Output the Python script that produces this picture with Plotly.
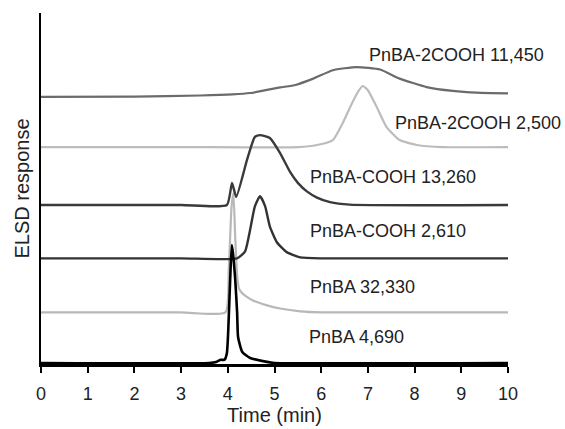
import plotly.graph_objects as go

# ---- data (time in min, response in arbitrary units above each trace's baseline) ----
labels = ["PnBA-2COOH 11,450", "PnBA-2COOH 2,500", "PnBA 32,330",
          "PnBA-COOH 13,260", "PnBA-COOH 2,610", "PnBA 4,690"]

t_2cooh_11450 = [0.0, 2.0, 3.41, 4.1, 4.48, 4.84, 5.12, 5.45, 5.83, 6.25, 6.76, 7.26, 7.68, 8.26, 8.82, 9.33, 10.0]
r_2cooh_11450 = [0.0, 0.1, 0.4, 0.7, 1.1, 2.0, 2.7, 3.4, 5.2, 7.6, 8.5, 7.8, 5.2, 2.8, 1.7, 1.2, 1.0]

t_2cooh_2500 = [0.0, 3.0, 5.5, 5.91, 6.25, 6.46, 6.66, 6.81, 6.89, 7.0, 7.19, 7.4, 7.68, 8.05, 8.6, 10.0]
r_2cooh_2500 = [0.0, 0.0, 0.0, 0.6, 2.0, 6.8, 12.5, 16.2, 17.4, 16.2, 11.4, 5.7, 2.0, 0.6, 0.0, 0.0]

t_pnba_32330 = [0.0, 3.0, 3.95, 4.02, 4.08, 4.12, 4.16, 4.2, 4.24, 4.3, 4.37, 4.54, 4.84, 5.12, 5.55, 6.0, 10.0]
r_pnba_32330 = [0.0, 0.0, 0.0, 12.0, 30.0, 34.0, 21.0, 10.5, 6.8, 5.6, 4.8, 3.4, 2.0, 1.1, 0.3, 0.0, 0.0]

t_cooh_13260 = [0.0, 3.0, 3.98, 4.09, 4.18, 4.41, 4.58, 4.69, 4.9, 5.12, 5.33, 5.5, 5.7, 5.91, 6.19, 6.61, 10.0]
r_cooh_13260 = [0.0, 0.0, 0.0, 6.3, 2.3, 12.8, 19.4, 19.9, 19.1, 14.8, 9.5, 6.3, 3.8, 2.1, 0.8, 0.1, 0.0]

t_cooh_2610 = [0.0, 3.0, 4.2, 4.37, 4.48, 4.58, 4.69, 4.8, 4.9, 5.05, 5.27, 5.55, 6.0, 10.0]
r_cooh_2610 = [0.0, 0.0, 0.0, 2.0, 8.3, 14.8, 17.7, 14.8, 9.1, 4.6, 1.7, 0.3, 0.0, 0.0]

t_pnba_4690 = [0.0, 3.6, 3.75, 3.85, 3.93, 3.98, 4.01, 4.05, 4.085, 4.11, 4.16, 4.2, 4.22, 4.31, 4.48, 4.84, 5.0, 10.0]
r_pnba_4690 = [0.0, 0.0, 0.3, 0.9, 0.9, 2.8, 9.4, 23.6, 33.6, 31.3, 23.6, 14.2, 7.4, 3.1, 1.4, 0.3, 0.0, 0.0]

offsets = [76.1, 61.8, 14.7, 45.3, 30.1, 0.3]          # vertical stacking offset of each trace
label_x = [6.98, 7.53, 5.72, 5.72, 5.72, 5.70]          # label anchor (time)
label_y = [88.0, 68.7, 21.9, 53.3, 37.9, 7.7]           # label anchor (response)

series_t = [t_2cooh_11450, t_2cooh_2500, t_pnba_32330, t_cooh_13260, t_cooh_2610, t_pnba_4690]
series_r = [r_2cooh_11450, r_2cooh_2500, r_pnba_32330, r_cooh_13260, r_cooh_2610, r_pnba_4690]

colors = ["#6b6b6b", "#bcbcbc", "#b8b8b8", "#3a3a3a", "#333333", "#000000"]
widths = [2.2, 2.2, 2.2, 2.4, 2.4, 2.6]

FONT = "Liberation Sans, Arial, Helvetica, sans-serif"

fig = go.Figure()
for t, r, off, c, w, name in zip(series_t, series_r, offsets, colors, widths, labels):
    fig.add_trace(go.Scatter(
        x=t, y=[v + off for v in r], mode="lines", name=name,
        line=dict(color=c, width=w, shape="spline", smoothing=0.5),
        showlegend=False, hoverinfo="skip"))

for name, lx, ly in zip(labels, label_x, label_y):
    fig.add_annotation(x=lx, y=ly, xref="x", yref="y", text=name, showarrow=False,
                       xanchor="left", yanchor="middle",
                       font=dict(family=FONT, size=18, color="#222222"))

fig.update_layout(
    width=565, height=429,
    margin=dict(l=41, r=57, t=13, b=65),
    paper_bgcolor="white", plot_bgcolor="white",
    font=dict(family=FONT, color="#222222"),
)
fig.update_xaxes(
    range=[0, 10], tickmode="linear", tick0=0, dtick=1,
    showgrid=False, zeroline=False, automargin=False,
    showline=True, linecolor="black", linewidth=3,
    ticks="outside", ticklen=6, tickwidth=2, tickcolor="black",
    ticklabelstandoff=5,
    tickfont=dict(family=FONT, size=18, color="#222222"),
    title=dict(text="Time (min)", font=dict(family=FONT, size=20, color="#222222"), standoff=2),
)
fig.update_yaxes(
    range=[0, 100], showgrid=False, zeroline=False, automargin=False,
    showline=True, linecolor="black", linewidth=2,
    showticklabels=False, ticks="",
    title=dict(text="ELSD response", font=dict(family=FONT, size=20, color="#222222"), standoff=4),
)

fig.write_html("out.html")
